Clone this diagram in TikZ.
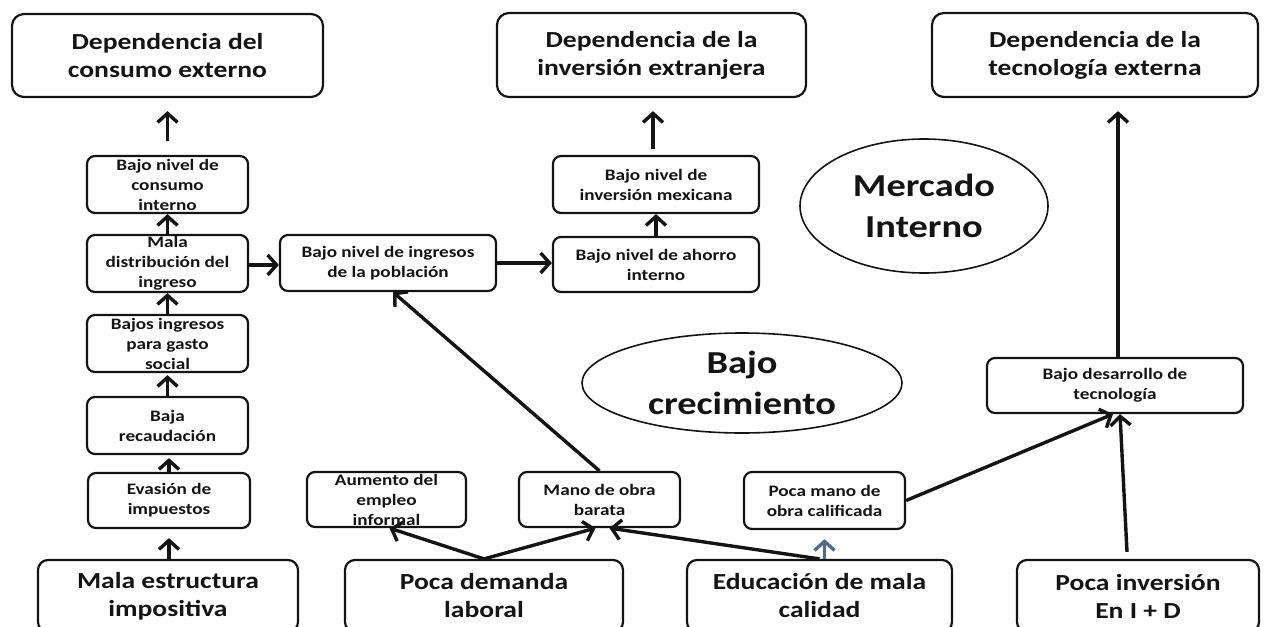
\documentclass[tikz,border=0pt]{standalone}
\usepackage{fontspec}
\setmainfont{Carlito}[FakeStretch=1.2]
\usetikzlibrary{arrows.meta,shapes.geometric,calc}
\definecolor{slate}{RGB}{84,106,139}
\definecolor{ink}{RGB}{20,20,20}
\tikzset{
  box/.style={draw=ink, text=ink, line width=2.2pt, rounded corners=8pt, align=center, inner sep=0pt,
    font=\fontsize{16}{20}\selectfont\bfseries},
  bigbox/.style={box, rounded corners=12pt, font=\fontsize{23}{28}\selectfont\bfseries},
  oval/.style={draw=ink, text=ink, ellipse, line width=1.6pt, inner sep=0pt, align=center,
    font=\fontsize{32}{41}\selectfont\bfseries},
  arr/.style={draw=ink, line width=3.4pt, line join=miter, -{Straight Barb[length=9pt,width=20pt]}},
}
\begin{document}
\begin{tikzpicture}[x=1pt,y=-1pt]
\useasboundingbox (0,0) rectangle (1265,626);
\clip (0,0) rectangle (1265,626);
% top row
\node[bigbox, minimum width=311, minimum height=83] (B1) at (167.5,55.5) {Dependencia del\\consumo externo};
\node[bigbox, minimum width=309, minimum height=84] (B2) at (651.5,55) {Dependencia de la\\inversión extranjera};
\node[bigbox, minimum width=326, minimum height=84] (B3) at (1095,55) {Dependencia de la\\tecnología externa};
% left column
\node[box, minimum width=161, minimum height=57] (consumo) at (167.5,184.5) {Bajo nivel de\\consumo\\interno};
\node[box, minimum width=161, minimum height=57] (maladist) at (167.5,263.5) {Mala\\distribución del\\ingreso};
\node[box, minimum width=161, minimum height=57] (bajosing) at (167.5,343.5) {Bajos ingresos\\para gasto\\social};
\node[box, minimum width=161, minimum height=57] (recaud) at (167.5,425.5) {Baja\\recaudación};
\node[box, minimum width=162, minimum height=55] (evasion) at (169,500.5) {Evasión de\\impuestos};
% middle
\node[box, minimum width=216, minimum height=56] (ingresos) at (388,263) {Bajo nivel de ingresos\\de la población};
\node[box, minimum width=206, minimum height=55] (ahorro) at (656,264.5) {Bajo nivel de ahorro\\interno};
\node[box, minimum width=206, minimum height=57] (invmex) at (656,184.5) {Bajo nivel de\\inversión mexicana};
\node[box, minimum width=159, minimum height=55] (aumento) at (386.5,499.5) {Aumento del\\empleo\\informal};
\node[box, minimum width=161, minimum height=55] (mano) at (599.5,499.5) {Mano de obra\\barata};
\node[box, minimum width=161, minimum height=57] (pocamano) at (824.5,500.5) {Poca mano de\\obra calificada};
\node[box, minimum width=256, minimum height=55] (desarrollo) at (1115,385.5) {Bajo desarrollo de\\tecnología};
% ellipses
\node[oval, minimum width=248, minimum height=134] (mercado) at (924,206) {Mercado\\Interno};
\node[oval, minimum width=320, minimum height=100] (crec) at (742,383) {Bajo\\crecimiento};
% bottom row
\node[bigbox, rounded corners=10pt, minimum width=260, minimum height=72] (malaest) at (168,596) {Mala estructura\\impositiva};
\node[bigbox, rounded corners=10pt, minimum width=278, minimum height=72] (demanda) at (484,596) {Poca demanda\\laboral};
\node[bigbox, rounded corners=10pt, minimum width=265, minimum height=72] (educacion) at (819.5,596) {Educación de mala\\calidad};
\node[bigbox, rounded corners=10pt, minimum width=242, minimum height=72] (inversion) at (1138,596) {Poca inversión\\En I + D};
% connectors
\draw[arr, shorten <=14pt, shorten >=13pt] (consumo.north) -- (B1.south);
\draw[arr] (maladist.north) -- (consumo.south);
\draw[arr] (bajosing.north) -- (maladist.south);
\draw[arr, shorten >=2pt] (recaud.north) -- (bajosing.south);
\draw[arr, shorten >=3pt] (evasion.north) -- (evasion.north |- recaud.south);
\draw[arr, shorten >=9pt] (malaest.north -| evasion.north) -- (evasion.south);
\draw[arr] (maladist.east |- 0,265) -- (ingresos.west |- 0,265);
\draw[arr] (ingresos.east) -- (ingresos.east -| ahorro.west);
\draw[arr] (ahorro.north) -- (invmex.south);
\draw[arr, shorten <=6pt, shorten >=13pt] ($(invmex.north)+(-3,0)$) -- ($(invmex.north |- B2.south)+(-3,0)$);
\draw[arr] (mano.north) -- ($(ingresos.south)+(5,0)$);
\draw[arr] (demanda.north) -- ($(aumento.south)+(3,0)$);
\draw[arr] (demanda.north) -- ($(mano.south)+(-4,0)$);
\draw[arr] (educacion.north) -- ($(mano.south)+(10,0)$);
\draw[arr, draw=slate, shorten >=9pt] (pocamano.south |- educacion.north) -- (pocamano.south);
\draw[arr] (pocamano.east) -- ($(desarrollo.south)+(-2,0)$);
\draw[arr] ($(inversion.north)+(-11,-7)$) -- ($(desarrollo.south)+(5,0)$);
\draw[arr, shorten >=13pt] ($(desarrollo.north)+(3,0)$) -- ($(desarrollo.north |- B3.south)+(3,0)$);
\end{tikzpicture}
\end{document}
